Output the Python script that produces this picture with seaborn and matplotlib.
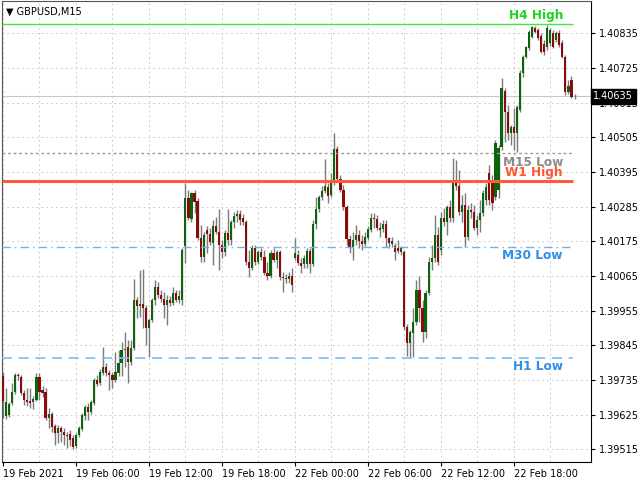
import numpy as np
import pandas as pd
import matplotlib
matplotlib.use('Agg')
import matplotlib.pyplot as plt
import seaborn as sns

# GBPUSD M15, 19 Feb 2021 00:00 -> 22 Feb 2021 ~23:00
symbol = '\u25bc GBPUSD,M15'

opens = [
    1.39748, 1.39621, 1.39624, 1.39662, 1.39698, 1.39751, 1.39745, 1.39694, 1.39672, 1.39669,
    1.39666, 1.39672, 1.39745, 1.39704, 1.39698, 1.39615, 1.39627, 1.39590, 1.39567, 1.39584,
    1.39571, 1.39561, 1.39564, 1.39552, 1.39526, 1.39561, 1.39580, 1.39621, 1.39650, 1.39634,
    1.39662, 1.39735, 1.39725, 1.39757, 1.39777, 1.39757, 1.39751, 1.39735, 1.39757, 1.39789,
    1.39831, 1.39840, 1.39793, 1.39837, 1.39989, 1.39970, 1.39976, 1.39964, 1.39901, 1.39926,
    1.39989, 1.40030, 1.40005, 1.39992, 1.39973, 1.39989, 1.39979, 1.40011, 1.39989, 1.39989,
    1.40160, 1.40313, 1.40245, 1.40328, 1.40303, 1.40186, 1.40126, 1.40211, 1.40198, 1.40169,
    1.40224, 1.40205, 1.40163, 1.40142, 1.40201, 1.40179, 1.40237, 1.40255, 1.40261, 1.40249,
    1.40237, 1.40110, 1.40091, 1.40154, 1.40110, 1.40142, 1.40126, 1.40074, 1.40065, 1.40138,
    1.40116, 1.40142, 1.40062, 1.40059, 1.40055, 1.40065, 1.40123, 1.40132, 1.40106, 1.40103,
    1.40103, 1.40145, 1.40103, 1.40230, 1.40277, 1.40316, 1.40335, 1.40347, 1.40322, 1.40359,
    1.40468, 1.40372, 1.40338, 1.40284, 1.40182, 1.40157, 1.40179, 1.40195, 1.40176, 1.40166,
    1.40186, 1.40211, 1.40249, 1.40245, 1.40218, 1.40214, 1.40230, 1.40186, 1.40166, 1.40160,
    1.40154, 1.40142, 1.40142, 1.39904, 1.39852, 1.39884, 1.39920, 1.40021, 1.39964, 1.39888,
    1.40011, 1.40110, 1.40123, 1.40195, 1.40148, 1.40249, 1.40237, 1.40284, 1.40249, 1.40359,
    1.40350, 1.40268, 1.40290, 1.40189, 1.40274, 1.40268, 1.40218, 1.40243, 1.40264, 1.40306,
    1.40391, 1.40369, 1.40316, 1.40338, 1.40474, 1.40652, 1.40585, 1.40518, 1.40537, 1.40518,
    1.40591, 1.40708, 1.40760, 1.40788, 1.40823, 1.40852, 1.40845, 1.40826, 1.40800, 1.40791,
    1.40803, 1.40835, 1.40813, 1.40835, 1.40803, 1.40760, 1.40649, 1.40686, 1.40636,
]
highs = [
    1.39761, 1.39710, 1.39666, 1.39725, 1.39757, 1.39757, 1.39751, 1.39704, 1.39710, 1.39710,
    1.39685, 1.39757, 1.39757, 1.39716, 1.39710, 1.39647, 1.39634, 1.39596, 1.39593, 1.39590,
    1.39584, 1.39571, 1.39577, 1.39561, 1.39567, 1.39590, 1.39630, 1.39656, 1.39662, 1.39672,
    1.39742, 1.39751, 1.39770, 1.39840, 1.39789, 1.39767, 1.39761, 1.39825, 1.39831, 1.39856,
    1.39888, 1.39862, 1.39862, 1.40055, 1.39999, 1.40084, 1.40087, 1.39973, 1.39932, 1.39996,
    1.40052, 1.40046, 1.40021, 1.40015, 1.40005, 1.40002, 1.40030, 1.40021, 1.40021, 1.40154,
    1.40359, 1.40338, 1.40332, 1.40338, 1.40313, 1.40227, 1.40205, 1.40224, 1.40218, 1.40243,
    1.40252, 1.40277, 1.40179, 1.40211, 1.40277, 1.40243, 1.40268, 1.40274, 1.40274, 1.40261,
    1.40243, 1.40148, 1.40163, 1.40163, 1.40148, 1.40154, 1.40148, 1.40110, 1.40148, 1.40154,
    1.40148, 1.40148, 1.40078, 1.40071, 1.40078, 1.40091, 1.40186, 1.40148, 1.40123, 1.40132,
    1.40154, 1.40154, 1.40243, 1.40316, 1.40322, 1.40350, 1.40436, 1.40359, 1.40391, 1.40518,
    1.40477, 1.40385, 1.40353, 1.40290, 1.40195, 1.40205, 1.40227, 1.40211, 1.40195, 1.40205,
    1.40224, 1.40264, 1.40264, 1.40258, 1.40237, 1.40243, 1.40243, 1.40189, 1.40189, 1.40169,
    1.40179, 1.40160, 1.40148, 1.39913, 1.39894, 1.39964, 1.40052, 1.40065, 1.39989, 1.40021,
    1.40126, 1.40163, 1.40258, 1.40221, 1.40268, 1.40281, 1.40290, 1.40306, 1.40440, 1.40433,
    1.40401, 1.40322, 1.40328, 1.40290, 1.40296, 1.40290, 1.40258, 1.40306, 1.40338, 1.40359,
    1.40417, 1.40385, 1.40496, 1.40481, 1.40693, 1.40661, 1.40607, 1.40544, 1.40598, 1.40607,
    1.40718, 1.40766, 1.40794, 1.40845, 1.40858, 1.40858, 1.40852, 1.40835, 1.40813, 1.40861,
    1.40852, 1.40845, 1.40842, 1.40845, 1.40813, 1.40766, 1.40686, 1.40699, 1.40642,
]
lows = [
    1.39615, 1.39611, 1.39618, 1.39656, 1.39691, 1.39735, 1.39688, 1.39656, 1.39653, 1.39647,
    1.39643, 1.39669, 1.39672, 1.39682, 1.39609, 1.39584, 1.39571, 1.39529, 1.39535, 1.39539,
    1.39529, 1.39520, 1.39526, 1.39516, 1.39520, 1.39555, 1.39574, 1.39609, 1.39609, 1.39627,
    1.39656, 1.39716, 1.39719, 1.39751, 1.39748, 1.39704, 1.39710, 1.39729, 1.39748, 1.39748,
    1.39777, 1.39725, 1.39783, 1.39831, 1.39932, 1.39935, 1.39901, 1.39846, 1.39809, 1.39920,
    1.39973, 1.39996, 1.39983, 1.39932, 1.39910, 1.39970, 1.39973, 1.39983, 1.39979, 1.39973,
    1.40106, 1.40243, 1.40237, 1.40264, 1.40179, 1.40110, 1.40110, 1.40138, 1.40163, 1.40100,
    1.40198, 1.40084, 1.40123, 1.40129, 1.40163, 1.40163, 1.40218, 1.40237, 1.40227, 1.40227,
    1.40100, 1.40062, 1.40084, 1.40100, 1.40103, 1.40116, 1.40068, 1.40052, 1.40059, 1.40110,
    1.40091, 1.40052, 1.40015, 1.40042, 1.40042, 1.40015, 1.40116, 1.40100, 1.40074, 1.40091,
    1.40091, 1.40074, 1.40097, 1.40214, 1.40268, 1.40306, 1.40328, 1.40296, 1.40316, 1.40353,
    1.40363, 1.40332, 1.40274, 1.40163, 1.40138, 1.40116, 1.40163, 1.40154, 1.40148, 1.40160,
    1.40179, 1.40205, 1.40218, 1.40211, 1.40189, 1.40205, 1.40157, 1.40154, 1.40157, 1.40116,
    1.40138, 1.40132, 1.39894, 1.39812, 1.39809, 1.39809, 1.39910, 1.39920, 1.39856, 1.39869,
    1.40005, 1.40084, 1.40110, 1.40100, 1.40132, 1.40224, 1.40195, 1.40237, 1.40237, 1.40338,
    1.40258, 1.40237, 1.40157, 1.40179, 1.40249, 1.40211, 1.40195, 1.40205, 1.40255, 1.40290,
    1.40290, 1.40274, 1.40306, 1.40313, 1.40465, 1.40490, 1.40496, 1.40481, 1.40465, 1.40459,
    1.40585, 1.40696, 1.40757, 1.40782, 1.40820, 1.40835, 1.40813, 1.40772, 1.40766, 1.40782,
    1.40794, 1.40788, 1.40807, 1.40791, 1.40757, 1.40639, 1.40642, 1.40630, 1.40626,
]
closes = [
    1.39669, 1.39666, 1.39659, 1.39698, 1.39751, 1.39748, 1.39694, 1.39672, 1.39666, 1.39662,
    1.39675, 1.39745, 1.39698, 1.39694, 1.39615, 1.39627, 1.39587, 1.39567, 1.39584, 1.39571,
    1.39561, 1.39558, 1.39545, 1.39523, 1.39561, 1.39584, 1.39624, 1.39650, 1.39634, 1.39666,
    1.39735, 1.39722, 1.39761, 1.39777, 1.39757, 1.39751, 1.39735, 1.39761, 1.39789, 1.39831,
    1.39834, 1.39793, 1.39837, 1.39989, 1.39970, 1.39976, 1.39964, 1.39901, 1.39926, 1.39989,
    1.40030, 1.40005, 1.39992, 1.39973, 1.39989, 1.39979, 1.40011, 1.39989, 1.40002, 1.40148,
    1.40313, 1.40249, 1.40328, 1.40300, 1.40186, 1.40126, 1.40195, 1.40198, 1.40173, 1.40224,
    1.40205, 1.40163, 1.40142, 1.40201, 1.40179, 1.40237, 1.40255, 1.40261, 1.40243, 1.40237,
    1.40110, 1.40091, 1.40154, 1.40110, 1.40142, 1.40126, 1.40074, 1.40065, 1.40138, 1.40116,
    1.40142, 1.40062, 1.40059, 1.40055, 1.40065, 1.40036, 1.40138, 1.40106, 1.40097, 1.40123,
    1.40145, 1.40103, 1.40230, 1.40277, 1.40316, 1.40335, 1.40350, 1.40319, 1.40359, 1.40468,
    1.40372, 1.40338, 1.40284, 1.40182, 1.40157, 1.40179, 1.40195, 1.40176, 1.40166, 1.40189,
    1.40214, 1.40249, 1.40245, 1.40218, 1.40211, 1.40230, 1.40186, 1.40169, 1.40176, 1.40142,
    1.40145, 1.40154, 1.39904, 1.39852, 1.39888, 1.39920, 1.40021, 1.39964, 1.39888, 1.40011,
    1.40110, 1.40123, 1.40195, 1.40110, 1.40249, 1.40237, 1.40284, 1.40249, 1.40359, 1.40350,
    1.40268, 1.40290, 1.40189, 1.40274, 1.40268, 1.40218, 1.40243, 1.40264, 1.40328, 1.40347,
    1.40306, 1.40296, 1.40486, 1.40471, 1.40661, 1.40585, 1.40518, 1.40537, 1.40518, 1.40601,
    1.40708, 1.40760, 1.40791, 1.40839, 1.40855, 1.40839, 1.40820, 1.40776, 1.40776, 1.40852,
    1.40845, 1.40791, 1.40835, 1.40797, 1.40760, 1.40649, 1.40667, 1.40633, 1.40635,
]

# levels drawn by the indicator
level_names = ['H4 High', 'M15 Low', 'W1 High', 'M30 Low', 'H1 Low']
level_values = [1.40864, 1.40454, 1.40366, 1.40157, 1.39806]
level_line_colors = ['#3ee83e', '#9a9a9a', '#ff5a3c', '#78aee6', '#7cbcf4']
level_text_colors = ['#1fd41f', '#8c8c8c', '#ff5533', '#2d8fe6', '#2d8fe6']
level_styles = ['-', (0, (2, 2)), '-', (0, (6, 3, 1, 3)), (0, (6, 4))]
level_widths = [1.0, 1.0, 2.2, 1.0, 1.2]
level_text_dy = [6, -6.3, 6.3, -6.5, -6.5]

current_price = 1.40635

y_ticks = [1.39515, 1.39625, 1.39735, 1.39845, 1.39955, 1.40065, 1.40175,
           1.40285, 1.40395, 1.40505, 1.40615, 1.40725, 1.40835]
x_tick_bars = [0, 24, 48, 72, 96, 120, 144, 168]
x_tick_labels = ['19 Feb 2021', '19 Feb 06:00', '19 Feb 12:00', '19 Feb 18:00',
                 '22 Feb 00:00', '22 Feb 06:00', '22 Feb 12:00', '22 Feb 18:00']

sns.set_theme(style='white')
plt.rcParams['font.family'] = ['DejaVu Sans']

df = pd.DataFrame({'open': opens, 'high': highs, 'low': lows, 'close': closes})
df['bar'] = np.arange(len(df))
df['up'] = df['close'] >= df['open']

fig = plt.figure(figsize=(6.4, 4.8), dpi=100)
ax = fig.add_axes([2 / 640, 1 - 462 / 480, 589 / 640, 461 / 480])

# grid
ax.set_xticks(x_tick_bars)
ax.set_xticks(np.arange(12, 194, 24), minor=True)
ax.set_yticks(y_ticks)
ax.grid(True, which='both', color='#cfcfcf', linestyle=(0, (2, 3)), linewidth=0.7)
ax.set_axisbelow(True)

# current price line
ax.axhline(current_price, color='#c8c8c8', linewidth=0.8, zorder=1)

# candles
ax.vlines(df['bar'], df['low'], df['high'], color='#7a7a7a', linewidth=1.0, zorder=2)
body_low = df[['open', 'close']].min(axis=1)
body_h = (df['close'] - df['open']).abs().clip(lower=0.000015)
colors = np.where(df['up'], '#0b640b', '#8b0a0a')
ax.bar(df['bar'], body_h, bottom=body_low, width=0.7, color=colors,
       edgecolor='none', linewidth=0, zorder=3)

# levels
for name, val, lc, tc, ls, lw, dy in zip(level_names, level_values, level_line_colors,
                                         level_text_colors, level_styles, level_widths,
                                         level_text_dy):
    ax.hlines(val, -0.33, 187.5, colors=lc, linestyles=ls, linewidth=lw, zorder=4)
    ax.annotate(name, (184.2, val), xytext=(0, dy), textcoords='offset points',
                ha='right', va='center', fontsize=8.7, fontweight='bold', color=tc, zorder=5)

ax.set_xlim(-0.33, 193.42)
ax.set_ylim(1.39475, 1.40937)

ax.yaxis.tick_right()
ax.set_yticklabels([f'{v:.5f}' for v in y_ticks])
ax.set_xticklabels(x_tick_labels)
for lab in ax.get_xticklabels():
    lab.set_horizontalalignment('left')
ax.tick_params(axis='y', which='major', length=3, width=0.8, pad=3, labelsize=7,
               colors='#000000', right=True, left=False)
ax.tick_params(axis='x', which='major', length=3, width=0.8, pad=2, labelsize=7,
               colors='#000000', bottom=True, direction='out')
ax.tick_params(axis='x', which='minor', length=0)

for side in ['left', 'top']:
    ax.spines[side].set_color('#555555')
    ax.spines[side].set_linewidth(0.8)
for side in ['right', 'bottom']:
    ax.spines[side].set_color('#000000')
    ax.spines[side].set_linewidth(0.8)

# price tag
ax.text(1.004, current_price, f'{current_price:.5f}', transform=ax.get_yaxis_transform(),
        ha='left', va='center', fontsize=7, color='white', zorder=10, clip_on=False,
        bbox=dict(boxstyle='square,pad=0.25', facecolor='black', edgecolor='black'))

ax.text(0.006, 0.988, symbol, transform=ax.transAxes, ha='left', va='top',
        fontsize=7, color='#000000')

fig.savefig('out.png', dpi=100)
